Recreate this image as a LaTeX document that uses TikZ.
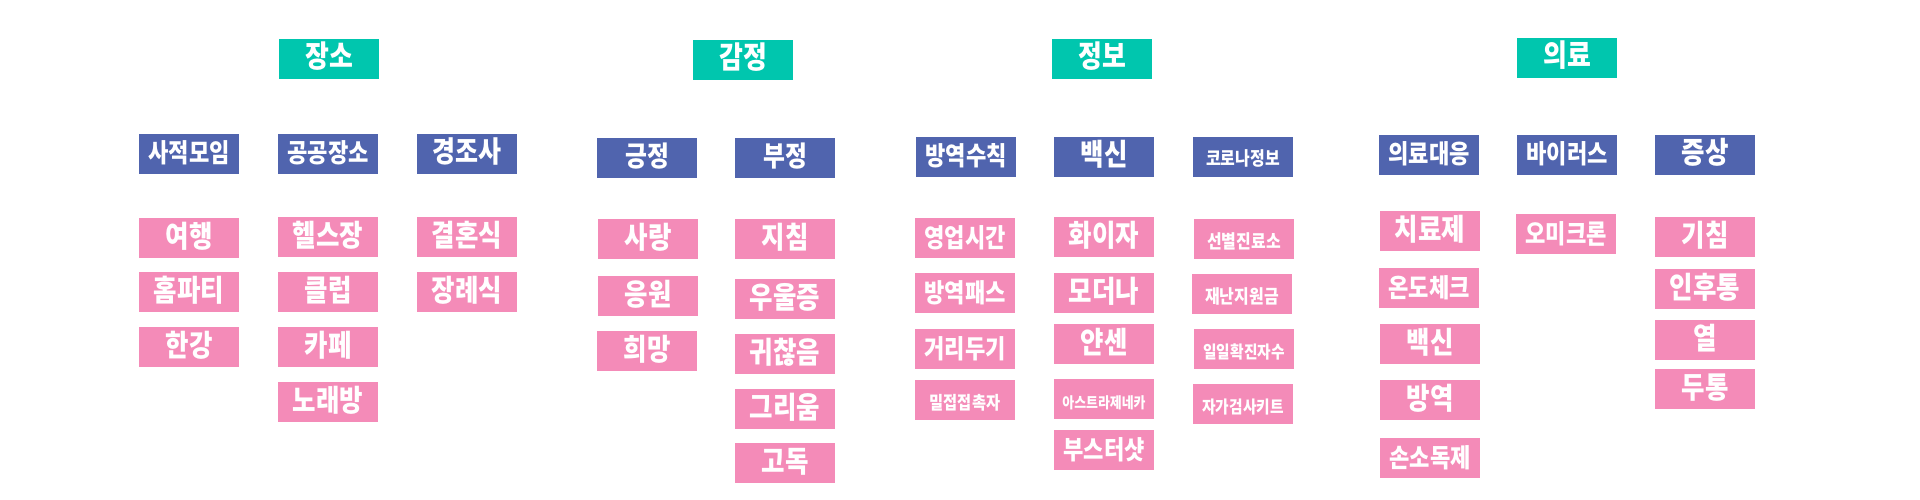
\documentclass[tikz,border=0pt]{standalone}
\usepackage{fontspec}
\usepackage{xcolor}
\usepackage{tikz}
\newfontfamily\kfont{Noto Sans CJK KR}[FakeStretch=0.85]
\newcommand{\kf}[1]{\kfont\bfseries\fontsize{#1}{#1}\selectfont}
\definecolor{headteal}{HTML}{00C6AE}
\definecolor{catblue}{HTML}{5064AE}
\definecolor{itempink}{HTML}{F48BB8}

\begin{document}
\begin{tikzpicture}[
  x=1pt, y=-1pt,
  box/.style={minimum width=100pt, minimum height=40pt, inner sep=0pt, text=white, text height=21pt, text depth=3pt},
  ksize/.style={font=\kf{#1}},
  head/.style={box, fill=headteal, ksize=30.5},
  cat/.style={box, fill=catblue, ksize=26},
  item/.style={box, fill=itempink, ksize=30}
]
\useasboundingbox (0,0) rectangle (1920,500);

% 장소
\node[head] (jangso) at (329,59) {장소};
\node[cat] (sajeok) at (189,154) {사적모임};
\node[cat] (gonggong) at (328,154) {공공장소};
\node[cat, ksize=29.4] (gyeongjo) at (467,154) {경조사};
\node[item] (yeohaeng) at (189,238) {여행};
\node[item] (homparty) at (189,292) {홈파티};
\node[item] (hangang) at (189,347) {한강};
\node[item] (health) at (328,237) {헬스장};
\node[item] (club) at (328,292) {클럽};
\node[item] (cafe) at (328,347) {카페};
\node[item] (noraebang) at (328,402) {노래방};
\node[item] (gyeolhon) at (467,237) {결혼식};
\node[item] (jangrye) at (467,292) {장례식};

% 감정
\node[head] (gamjeong) at (743,60) {감정};
\node[cat, ksize=28] (geungjeong) at (647,158) {긍정};
\node[cat, ksize=28] (bujeong) at (785,158) {부정};
\node[item] (sarang) at (648,239) {사랑};
\node[item] (eungwon) at (648,296) {응원};
\node[item] (huimang) at (647,351) {희망};
\node[item] (jichim) at (785,239) {지침};
\node[item] (uuljeung) at (785,299) {우울증};
\node[item] (gwichan) at (785,354) {귀찮음};
\node[item] (geurium) at (785,409) {그리움};
\node[item] (godok) at (785,463) {고독};

% 정보
\node[head] (jeongbo) at (1102,59) {정보};
\node[cat] (bangyeok) at (966,157) {방역수칙};
\node[cat, ksize=30] (baeksin) at (1104,157) {백신};
\node[cat, ksize=18.8] (corona) at (1243,157) {코로나정보};
\node[item, ksize=26] (yeongeop) at (965,238) {영업시간};
\node[item, ksize=26] (pass) at (965,293) {방역패스};
\node[item, ksize=26] (geori) at (965,349) {거리두기};
\node[item, ksize=18] (miljeop) at (965,400) {밀접접촉자};
\node[item] (pfizer) at (1104,237) {화이자};
\node[item] (moderna) at (1104,293) {모더나};
\node[item] (janssen) at (1104,344) {얀센};
\node[item, ksize=15.2] (astra) at (1104,399) {아스트라제네카};
\node[item, ksize=26] (booster) at (1104,450) {부스터샷};
\node[item, ksize=18.8] (seonbyeol) at (1244,239) {선별진료소};
\node[item, ksize=18.8] (jaenan) at (1242,294) {재난지원금};
\node[item, ksize=17.3] (ilil) at (1244,349) {일일확진자수};
\node[item, ksize=17.3] (jaga) at (1243,404) {자가검사키트};

% 의료
\node[head] (uiryo) at (1567,58) {의료};
\node[cat] (daeeung) at (1429,155) {의료대응};
\node[cat] (virus) at (1567,155) {바이러스};
\node[cat, ksize=30] (jeungsang) at (1705,155) {증상};
\node[item] (chiryo) at (1430,231) {치료제};
\node[item, ksize=26] (ondo) at (1429,288) {온도체크};
\node[item] (baeksin2) at (1430,344) {백신};
\node[item] (bangyeok2) at (1430,400) {방역};
\node[item, ksize=26] (sonsodok) at (1430,458) {손소독제};
\node[item, ksize=26] (omicron) at (1566,234) {오미크론};
\node[item] (gichim) at (1705,237) {기침};
\node[item] (inhu) at (1705,289) {인후통};
\node[item] (yeol) at (1705,340) {열};
\node[item] (dutong) at (1705,389) {두통};
\end{tikzpicture}
\end{document}
